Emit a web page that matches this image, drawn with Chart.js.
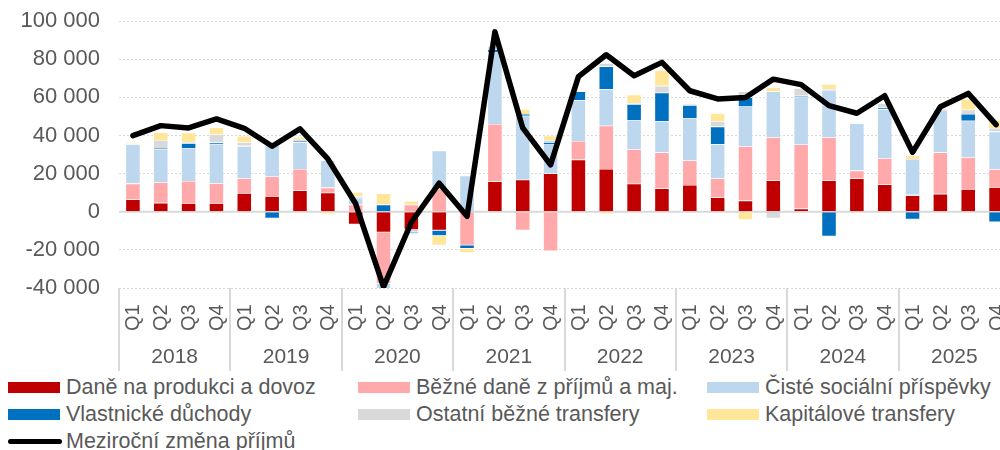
<!DOCTYPE html>
<html>
<head>
<meta charset="utf-8">
<script src="https://cdn.jsdelivr.net/npm/chart.js@4"></script>
<style>
  html, body { margin: 0; padding: 0; background: #fff; overflow: hidden; }
  body { width: 1000px; height: 450px; position: relative; font-family: "Liberation Sans", Arial, sans-serif; }
  #wrap { position: absolute; left: 0; top: -11px; width: 1010px; height: 383px; }
  .lg { position: absolute; font-size: 21.5px; color: #595959; white-space: nowrap; line-height: 24px; }
  .lg i { position: absolute; left: 0; top: 7px; width: 52px; height: 11px; }
  .lg span { position: absolute; left: 58px; top: 0; }
  .lg b { position: absolute; left: 0; top: 10px; width: 54px; height: 5px; border-radius: 3px; background: #000; }
</style>
</head>
<body>
<div id="wrap"><canvas id="chart"></canvas></div>
<div id="legend"></div>
<script>
const years = ['2018', '2019', '2020', '2021', '2022', '2023', '2024', '2025'];
const quarters = ['Q1', 'Q2', 'Q3', 'Q4'];

const seriesNames = [
    'Daně na produkci a dovoz',
    'Běžné daně z příjmů a maj.',
    'Čisté sociální příspěvky',
    'Vlastnické důchody',
    'Ostatní běžné transfery',
    'Kapitálové transfery'
];
const lineName = 'Meziroční změna příjmů';

const seriesColors = ['#C00000', '#FFA9AA', '#BDD7EE', '#0070C0', '#D9D9D9', '#FFE699'];

// values in CZK mil., 2018Q1 .. 2025Q4
const productionTaxes = [
    6500, 4700, 4500, 4500,
    9800, 8200, 11200, 10000,
    -6600, -10800, -9500, -9800,
    0, 15900, 16800, 20200,
    27400, 22500, 14700, 12200,
    14100, 7500, 5900, 16400,
    1700, 16400, 17500, 14300,
    8600, 9400, 11900, 12900
];
const incomeTaxes = [
    8300, 10800, 11700, 10500,
    7800, 10300, 11300, 2700,
    3800, -26900, 3800, 12000,
    -17600, 30200, -9800, -20600,
    9800, 22700, 18100, 19000,
    12800, 10000, 28500, 22700,
    33600, 22700, 4100, 13800,
    300, 21800, 16700, 9400
];
const socialContributions = [
    20500, 17500, 17300, 20600,
    16800, 16400, 14000, 14300,
    3500, -3500, -1200, 20100,
    19000, 37500, 33600, 15100,
    21400, 19200, 15400, 16300,
    22300, 17900, 20900, 24100,
    25100, 24800, 24800, 25800,
    18800, 22200, 19200, 19800
];
const propertyIncome = [
    0, 500, 2500, 700,
    300, -3500, 700, 0,
    300, 3800, -600, -2800,
    -1700, 1700, 900, 1200,
    4600, 11900, 8300, 15000,
    6800, 9300, 4700, -500,
    500, -12900, 0, 700,
    -4000, 0, 3500, -5400
];
const otherTransfers = [
    500, 4200, 600, 4400,
    1800, -700, 1000, 300,
    500, 0, -800, 0,
    0, 1700, 0, 1200,
    0, 1700, 500, 3600,
    500, 2900, 3200, -3000,
    4000, 500, 500, 2300,
    -700, 500, 2300, 1900
];
const capitalTransfers = [
    700, 4000, 4900, 3600,
    3300, 0, 1100, -1200,
    2200, 5800, 1900, -5000,
    -2300, 0, 2600, 2300,
    0, -1200, 4400, 8200,
    0, 4200, -4200, 2100,
    0, 2600, 0, -500,
    1900, -500, 5600, 4200
];
const yoyChange = [
    40000, 45200, 44000, 48700,
    43800, 34400, 43500, 27700,
    4200, -39400, -5500, 15000,
    -2400, 94400, 44000, 24600,
    70900, 82400, 71400, 78400,
    63500, 59200, 60000, 69600,
    66700, 55700, 51700, 60900,
    31200, 55100, 62100, 45700
];

const yTicks = [-40000, -20000, 0, 20000, 40000, 60000, 80000, 100000];

const labels = [];
years.forEach(y => quarters.forEach(q => labels.push(q + ' ' + y)));

const barSeries = [productionTaxes, incomeTaxes, socialContributions, propertyIncome, otherTransfers, capitalTransfers];

const textColor = '#595959';
const fontFamily = '"Liberation Sans", Arial, sans-serif';

function formatNumber(v) {
    return v.toString().replace(/\B(?=(\d{3})+(?!\d))/g, ' ');
}

// zero line, quarter + year labels and year separators
const axisPlugin = {
    id: 'axisPlugin',
    beforeDatasetsDraw(chart) {
        const ctx = chart.ctx;
        const y0 = chart.scales.y.getPixelForValue(0);
        ctx.save();
        ctx.strokeStyle = '#D9D9D9';
        ctx.lineWidth = 2;
        ctx.beginPath();
        ctx.moveTo(chart.chartArea.left, y0);
        ctx.lineTo(chart.chartArea.right, y0);
        ctx.stroke();
        ctx.restore();
    },
    afterDraw(chart) {
        const ctx = chart.ctx;
        const x = chart.scales.x;
        const area = chart.chartArea;
        const step = (area.right - area.left) / labels.length;
        const b = area.bottom;
        ctx.save();
        ctx.fillStyle = textColor;

        // quarter labels, reading upwards
        ctx.font = '20px ' + fontFamily;
        labels.forEach((lab, i) => {
            const cx = x.getPixelForValue(i);
            ctx.save();
            ctx.translate(cx, b + 43);
            ctx.rotate(-Math.PI / 2);
            ctx.textAlign = 'left';
            ctx.textBaseline = 'middle';
            ctx.fillText(quarters[i % 4], 0, 1);
            ctx.restore();
        });

        // year labels
        ctx.font = '21px ' + fontFamily;
        ctx.textAlign = 'center';
        ctx.textBaseline = 'middle';
        years.forEach((yr, k) => {
            const cx = area.left + (k * 4 + 2) * step;
            ctx.fillText(yr, cx, b + 69);
        });

        // separators
        ctx.strokeStyle = '#D9D9D9';
        ctx.lineWidth = 2;
        for (let k = 0; k <= years.length; k++) {
            const sx = Math.round(area.left + k * 4 * step);
            ctx.beginPath();
            ctx.moveTo(sx, b);
            ctx.lineTo(sx, b + 83);
            ctx.stroke();
        }
        ctx.restore();
    }
};

const datasets = [{
    type: 'line',
    label: lineName,
    data: yoyChange,
    borderColor: '#000000',
    backgroundColor: '#000000',
    borderWidth: 5.5,
    pointRadius: 0,
    tension: 0,
    borderJoinStyle: 'round',
    borderCapStyle: 'round',
    order: 0
}];
barSeries.forEach((data, i) => {
    datasets.push({
        type: 'bar',
        label: seriesNames[i],
        data: data,
        backgroundColor: seriesColors[i],
        borderColor: 'rgba(255,255,255,0.5)',
        borderWidth: 0.6,
        barPercentage: 0.53,
        categoryPercentage: 1,
        stack: 'income',
        order: 1
    });
});

new Chart(document.getElementById('chart'), {
    data: { labels: labels, datasets: datasets },
    options: {
        responsive: true,
        maintainAspectRatio: false,
        animation: false,
        layout: { padding: { top: 0, right: 0, bottom: 0, left: 0 } },
        plugins: {
            legend: { display: false },
            tooltip: { enabled: false }
        },
        scales: {
            x: {
                stacked: true,
                offset: true,
                grid: { display: false },
                border: { display: false },
                ticks: { display: false },
                afterFit(scale) { scale.height = 84; }
            },
            y: {
                stacked: true,
                min: -40000,
                max: 100000,
                afterBuildTicks(scale) { scale.ticks = yTicks.map(v => ({ value: v })); },
                afterFit(scale) { scale.width = 119; },
                grid: { color: '#D9D9D9', lineWidth: 1, drawTicks: false },
                border: { display: false, dash: [2, 2] },
                ticks: {
                    padding: 19,
                    color: textColor,
                    font: { size: 22, family: fontFamily },
                    callback: v => formatNumber(v)
                }
            }
        }
    },
    plugins: [axisPlugin]
});

// legend in three columns
const legend = document.getElementById('legend');
const cols = [8, 358, 707];
const rows = [375, 402, 429];
seriesNames.forEach((name, i) => {
    const el = document.createElement('div');
    el.className = 'lg';
    el.style.left = cols[i % 3] + 'px';
    el.style.top = rows[Math.floor(i / 3)] + 'px';
    el.innerHTML = '<i style="background:' + seriesColors[i] + '"></i><span>' + name + '</span>';
    legend.appendChild(el);
});
const lineItem = document.createElement('div');
lineItem.className = 'lg';
lineItem.style.left = cols[0] + 'px';
lineItem.style.top = rows[2] + 'px';
lineItem.innerHTML = '<b></b><span>' + lineName + '</span>';
legend.appendChild(lineItem);
</script>
</body>
</html>
